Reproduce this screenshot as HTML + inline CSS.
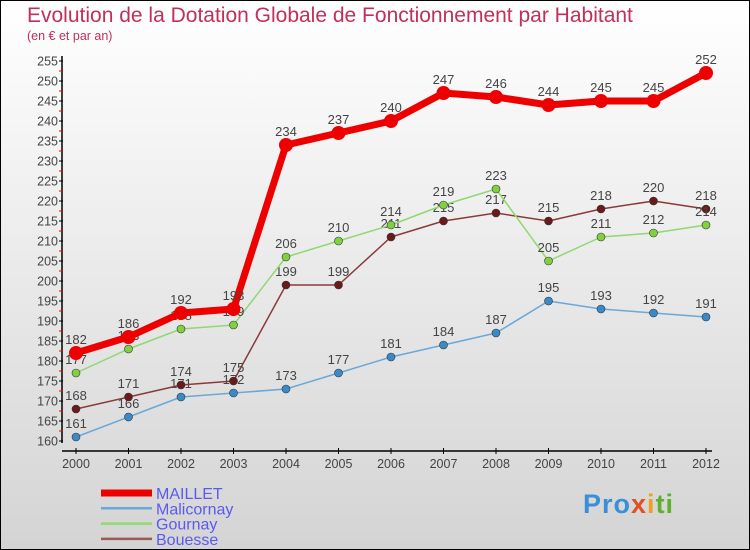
<!DOCTYPE html>
<html><head><meta charset="utf-8"><style>
body{margin:0}
#c{position:relative;width:748px;height:548px;border:1px solid #000;background:linear-gradient(#fff,#d4d4d4);font-family:"Liberation Sans",sans-serif;overflow:hidden}
.t{position:absolute;color:#c0305a;white-space:nowrap}
</style></head><body>
<div id="c">
<div class="t" style="left:26px;top:3px;font-size:21px">Evolution de la Dotation Globale de Fonctionnement par Habitant</div>
<div class="t" style="left:26px;top:28px;font-size:12.5px">(en € et par an)</div>
<svg id="s" width="748" height="548" style="position:absolute;left:0;top:0"></svg>
<div style="position:absolute;left:582px;top:488px;font-size:27px;font-weight:bold;font-family:'Liberation Sans',sans-serif;letter-spacing:1px"><span style="color:#3a8fd8">Pro</span><span style="color:#e05020">x</span><span style="color:#f0a020">i</span><span style="color:#60b030">ti</span></div>
</div>
<script>
const years=[2000,2001,2002,2003,2004,2005,2006,2007,2008,2009,2010,2011,2012];
const maillet=[182,186,192,193,234,237,240,247,246,244,245,245,252];
const malicornay=[161,166,171,172,173,177,181,184,187,195,193,192,191];
const gournay=[177,183,188,189,206,210,214,219,223,205,211,212,214];
const bouesse=[168,171,174,175,199,199,211,215,217,215,218,220,218];
const yTicks=[160,165,170,175,180,185,190,195,200,205,210,215,220,225,230,235,240,245,250,255];
const names=["MAILLET","Malicornay","Gournay","Bouesse"];
const s=document.getElementById('s');const NS='http://www.w3.org/2000/svg';
const X=i=>75+i*52.5, Y=v=>440-(v-160)*4;
function el(t,a,p){const e=document.createElementNS(NS,t);for(const k in a)e.setAttribute(k,a[k]);(p||s).appendChild(e);return e;}
let e;
e=el('line',{x1:61,y1:55,x2:61,y2:442,stroke:'#000','stroke-width':1.5});


e=el('line',{x1:61,y1:450,x2:711,y2:450,stroke:'#000','stroke-width':1.5});


yTicks.forEach(v=>{
 el('line',{x1:58,x2:62,y1:Y(v),y2:Y(v),stroke:'#000'});
 if(v<255)el('line',{x1:58,x2:62,y1:Y(v+2.5),y2:Y(v+2.5),stroke:'#e00'});
 e=el('text',{x:57,y:Y(v)+4.5,'text-anchor':'end','font-size':12.5,fill:'#444'});e.textContent=v;
 
 
});
years.forEach((y,i)=>{
 el('line',{x1:X(i),x2:X(i),y1:447,y2:453,stroke:'#000'});
 e=el('text',{x:X(i),y:467,'text-anchor':'middle','font-size':12.5,fill:'#444'});e.textContent=y;
 
 
});
const series=[[malicornay,'#6aa8d8','#3a8ac8',1.5,4],[bouesse,'#8a3a3a','#6a1a1a',1.5,4],[gournay,'#90d870','#80d040',1.5,4],[maillet,'#ee0000','#ee0000',7,7]];
series.forEach(([d,lc,pc,w,r],k)=>{
 const g=el('g',{});
 
 
 el('polyline',{points:d.map((v,i)=>X(i)+','+Y(v)).join(' '),fill:'none',stroke:lc,'stroke-width':w,'stroke-linejoin':'round'},g);
 d.forEach((v,i)=>{
  const c=el('circle',{cx:X(i),cy:Y(v),r:r,fill:pc,stroke:r>5?'none':'#333','stroke-width':0.6},g);
  
  
  const t=el('text',{x:X(i),y:Y(v)-9,'text-anchor':'middle','font-size':13,fill:'#444'},g);t.textContent=v;
  
  
 });
});
const lc=['#ee0000','#6aa8d8','#90d870','#9a5a5a'],lw=[7,2.5,2.5,2.5];
names.forEach((n,i)=>{
 const yy=492+i*15.3;
 e=el('line',{x1:100,x2:151,y1:yy,y2:yy,stroke:lc[i],'stroke-width':lw[i]});
 
 
 e=el('text',{x:155,y:yy+6,'font-size':16,fill:'#5a5af0'});e.textContent=n;
 
 
});
</script>
</body></html>
